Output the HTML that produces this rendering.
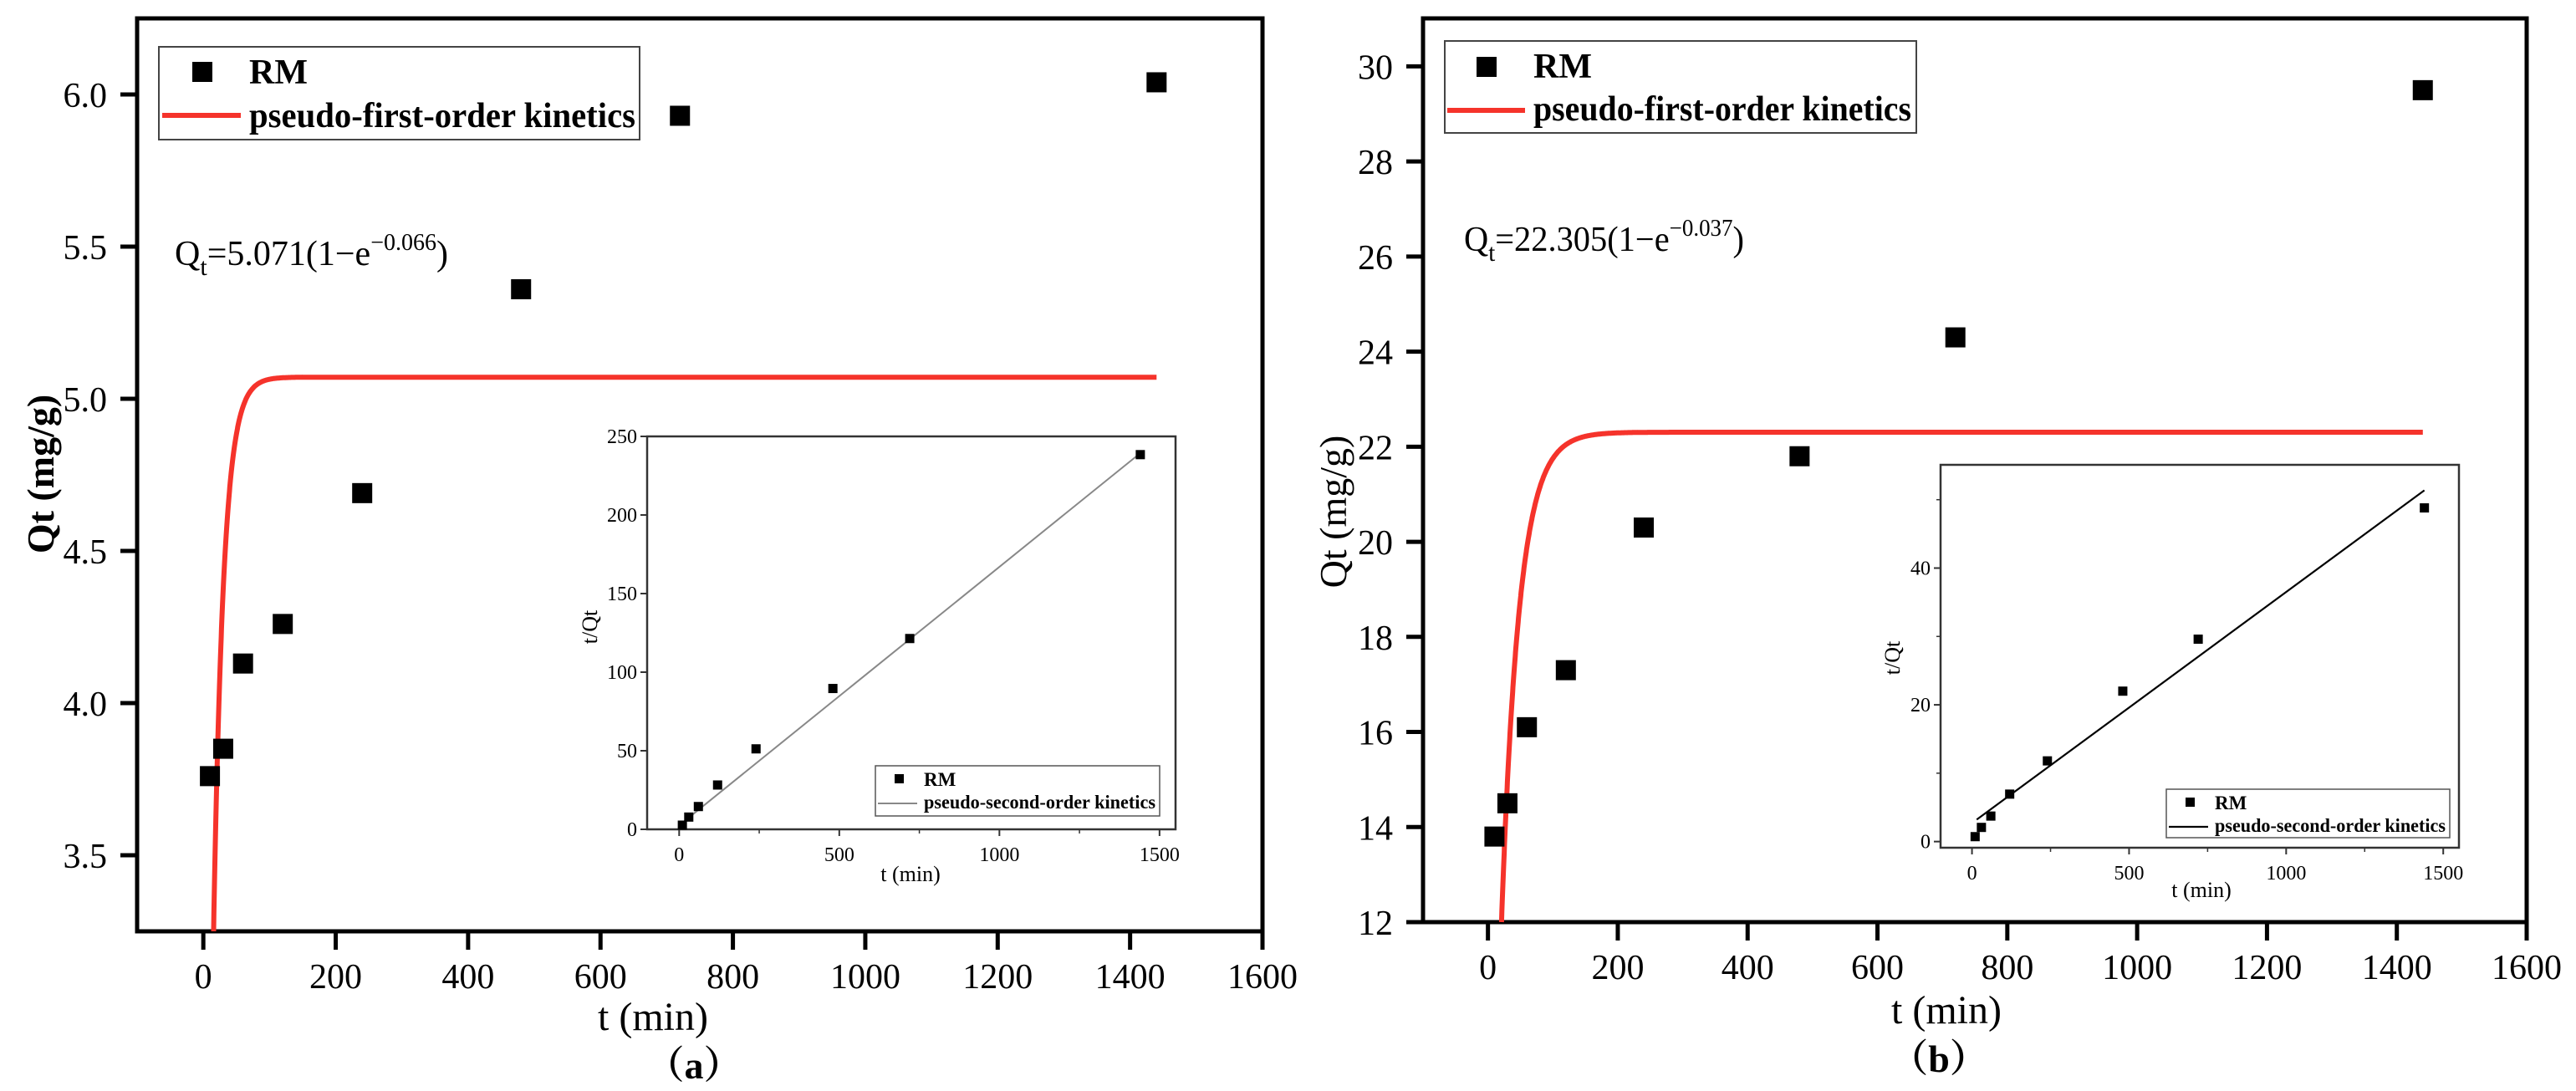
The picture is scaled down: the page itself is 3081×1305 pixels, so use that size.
<!DOCTYPE html>
<html><head><meta charset="utf-8"><style>
html,body{margin:0;padding:0;background:#fff;}
svg{display:block;font-family:"Liberation Serif",serif;}
</style></head><body>
<svg id="fig" width="3081" height="1305" viewBox="0 0 3081 1305" xmlns="http://www.w3.org/2000/svg" font-family="Liberation Serif, serif"></svg>
<script>
// ---- data ----
const times = [10, 30, 60, 120, 240, 480, 720, 1440];
const qtA = [3.76, 3.85, 4.13, 4.26, 4.69, 5.36, 5.93, 6.04];
const qtB = [13.8, 14.5, 16.1, 17.3, 20.3, 21.8, 24.3, 29.5];
const fitA = [5.071, 0.066];
const fitB = [22.305, 0.037];
const insetA = [2.66, 7.8, 14.5, 28.2, 51.2, 89.6, 121.4, 238.4];
const insetB = [0.72, 2.07, 3.73, 6.94, 11.8, 22.0, 29.6, 48.8];
const insetFitA = [2.5, 0.1645];
const insetFitB = [2.7, 0.0338];
const xTicksMain = [0, 200, 400, 600, 800, 1000, 1200, 1400, 1600];
const yTicksA = [3.5, 4.0, 4.5, 5.0, 5.5, 6.0];
const yTickLabelsA = ["3.5", "4.0", "4.5", "5.0", "5.5", "6.0"];
const yTicksB = [12, 14, 16, 18, 20, 22, 24, 26, 28, 30];
const xTicksInset = [0, 500, 1000, 1500];
const yTicksInsetA = [0, 50, 100, 150, 200, 250];
const yTicksInsetB = [0, 20, 40];

const NS = "http://www.w3.org/2000/svg";
const svg = document.getElementById("fig");
function mk(tag, attrs, parent) {
  const e = document.createElementNS(NS, tag);
  for (const k in attrs) e.setAttribute(k, attrs[k]);
  (parent || svg).appendChild(e);
  return e;
}
function lin(d0, d1, r0, r1) { return v => r0 + (v - d0) * (r1 - r0) / (d1 - d0); }

function mainPanel(cfg) {
  const g = mk("g", {});
  
  
  const X = lin(-100, 1600, cfg.x0, cfg.x1);
  const Y = lin(cfg.ymin, cfg.ymax, cfg.yb, cfg.yt);
  const fr = mk("rect", {x: cfg.x0, y: cfg.yt, width: cfg.x1 - cfg.x0, height: cfg.yb - cfg.yt, fill: "none", stroke: "#000", "stroke-width": 5}, g);
  
  
  xTicksMain.forEach(v => {
    const t = mk("line", {x1: X(v), x2: X(v), y1: cfg.yb, y2: cfg.yb + 22, stroke: "#000", "stroke-width": 5}, g);
    
    
    const l = mk("text", {x: X(v), y: cfg.yb + 68, "font-size": 42, "text-anchor": "middle"}, g);
    l.textContent = v;
    
    
  });
  cfg.yticks.forEach((v, i) => {
    const t = mk("line", {x1: cfg.x0 - 20, x2: cfg.x0, y1: Y(v), y2: Y(v), stroke: "#000", "stroke-width": 5}, g);
    
    
    const l = mk("text", {x: cfg.x0 - 36, y: Y(v) + 15, "font-size": 42, "text-anchor": "end"}, g);
    l.textContent = cfg.ylabels ? cfg.ylabels[i] : v;
    
    
  });
  // fit curve, starting exactly where it crosses the bottom of the axis
  const tStart = Math.max(0, -Math.log(1 - cfg.ymin / cfg.fit[0]) / cfg.fit[1]);
  let d = "M" + X(tStart).toFixed(1) + "," + Y(cfg.ymin).toFixed(1);
  for (let t = Math.ceil(tStart * 2) / 2; t <= 1440; t += 0.5) {
    const q = cfg.fit[0] * (1 - Math.exp(-cfg.fit[1] * t));
    d += "L" + X(t).toFixed(1) + "," + Y(q).toFixed(1);
  }
  const c = mk("path", {d: d, fill: "none", stroke: "#f5332b", "stroke-width": 6}, g);
  
  
  times.forEach((t, i) => {
    const p = mk("rect", {x: X(t) - 12, y: Y(cfg.q[i]) - 12, width: 24, height: 24, fill: "#000"}, g);
    
    
  });
  const xt = mk("text", {x: cfg.xtX, y: cfg.xtY, "font-size": 48, "text-anchor": "middle"}, g);
  xt.textContent = "t (min)";
  
  
  const yt = mk("text", {x: 0, y: 0, "font-size": 46, "text-anchor": "middle", "font-weight": cfg.ybold ? "bold" : "normal", transform: `translate(${cfg.ytX},${cfg.ytY}) rotate(-90)`}, g);
  yt.textContent = "Qt (mg/g)";
  
  
  const pl = mk("text", {x: cfg.plX, y: cfg.plY, "font-size": 46, "font-weight": "bold", "text-anchor": "middle", "font-family": "Liberation Serif, Noto Serif CJK SC, serif"}, g);
  pl.textContent = cfg.panelLabel;
  
  
  const L = cfg.leg;
  const lg = mk("g", {}, g);
  
  
  mk("rect", {x: L.x, y: L.y, width: L.w, height: L.h, fill: "#fff", stroke: "#444", "stroke-width": 2}, lg);
  const lm = mk("rect", {x: L.mx - 12, y: L.my - 12, width: 24, height: 24, fill: "#000"}, lg);
  
  
  const lt1 = mk("text", {x: L.tx, y: L.b1, "font-size": 42, "font-weight": "bold"}, lg);
  lt1.textContent = "RM";
  
  
  const ll = mk("line", {x1: L.lx0, x2: L.lx1, y1: L.ly, y2: L.ly, stroke: "#f5332b", "stroke-width": 6}, lg);
  
  
  const lt2 = mk("text", {x: L.tx, y: L.b2, "font-size": 42, "font-weight": "bold", textLength: L.tw, lengthAdjust: "spacingAndGlyphs"}, lg);
  lt2.textContent = "pseudo-first-order kinetics";
  
  
  const eq = mk("text", {x: cfg.eqX, y: cfg.eqY, "font-size": 42, textLength: cfg.eqW, lengthAdjust: "spacingAndGlyphs"}, g);
  
  
  eq.innerHTML = `Q<tspan font-size="30" dy="12">t</tspan><tspan dy="-12">=${cfg.fit[0].toFixed(3)}(1−e</tspan><tspan font-size="28" dy="-18">−${cfg.fit[1].toFixed(3)}</tspan><tspan dy="18">)</tspan>`;
  return g;
}

function inset(cfg) {
  const g = mk("g", {});
  
  
  const X = lin(-100, 1550, cfg.x0, cfg.x1);
  const Y = lin(cfg.ymin, cfg.ymax, cfg.yb, cfg.yt);
  mk("rect", {x: cfg.x0, y: cfg.yt, width: cfg.x1 - cfg.x0, height: cfg.yb - cfg.yt, fill: "#fff", stroke: "#333", "stroke-width": 2.5}, g);
  xTicksInset.forEach(v => {
    const t = mk("line", {x1: X(v), x2: X(v), y1: cfg.yb, y2: cfg.yb + 8, stroke: "#333", "stroke-width": 2}, g);
    
    
    const l = mk("text", {x: X(v), y: cfg.yb + 38, "font-size": 24, "text-anchor": "middle"}, g);
    l.textContent = v;
    
    
    if (v < 1500) {
      const m = mk("line", {x1: X(v + 250), x2: X(v + 250), y1: cfg.yb, y2: cfg.yb + 5, stroke: "#333", "stroke-width": 1.5}, g);
      
      
    }
  });
  cfg.yticks.forEach(v => {
    const t = mk("line", {x1: cfg.x0 - 8, x2: cfg.x0, y1: Y(v), y2: Y(v), stroke: "#333", "stroke-width": 2}, g);
    
    
    const l = mk("text", {x: cfg.x0 - 12, y: Y(v) + 8, "font-size": 24, "text-anchor": "end"}, g);
    l.textContent = v;
    
    
    if (cfg.minor && Y(v + cfg.minor) > cfg.yt) {
      const m = mk("line", {x1: cfg.x0 - 5, x2: cfg.x0, y1: Y(v + cfg.minor), y2: Y(v + cfg.minor), stroke: "#333", "stroke-width": 1.5}, g);
      
      
    }
  });
  const f = cfg.fit;
  const fl = mk("line", {x1: X(15), y1: Y(f[0] + f[1] * 15), x2: X(1440), y2: Y(f[0] + f[1] * 1440), stroke: cfg.lineColor, "stroke-width": cfg.lineW}, g);
  
  
  times.forEach((t, i) => {
    const p = mk("rect", {x: X(t) - 5.5, y: Y(cfg.v[i]) - 5.5, width: 11, height: 11, fill: "#000"}, g);
    
    
  });
  const xt = mk("text", {x: cfg.xtX, y: cfg.xtY, "font-size": 26, "text-anchor": "middle"}, g);
  xt.textContent = "t (min)";
  
  
  const yt = mk("text", {x: 0, y: 0, "font-size": 26, "text-anchor": "middle", transform: `translate(${cfg.ytX},${cfg.ytY}) rotate(-90)`}, g);
  yt.textContent = "t/Qt";
  
  
  const L = cfg.leg;
  const lg = mk("g", {}, g);
  
  
  mk("rect", {x: L.x, y: L.y, width: L.w, height: L.h, fill: "#fff", stroke: "#555", "stroke-width": 1.5}, lg);
  mk("rect", {x: L.x + 23, y: L.y + 10, width: 11, height: 11, fill: "#000"}, lg);
  const a = mk("text", {x: L.x + 58, y: L.y + 24, "font-size": 23, "font-weight": "bold"}, lg);
  a.textContent = "RM";
  
  
  mk("line", {x1: L.x + 3, x2: L.x + 50, y1: L.y + 45, y2: L.y + 45, stroke: cfg.lineColor, "stroke-width": cfg.lineW}, lg);
  const b = mk("text", {x: L.x + 58, y: L.y + 51, "font-size": 23, "font-weight": "bold", textLength: L.w - 63, lengthAdjust: "spacingAndGlyphs"}, lg);
  b.textContent = "pseudo-second-order kinetics";
  
  
}

mainPanel({name: "panel-a", x0: 164, x1: 1510, yt: 22, yb: 1114, ymin: 3.25, ymax: 6.25,
  yticks: yTicksA, ylabels: yTickLabelsA, q: qtA, fit: fitA, ybold: true,
  xtX: 781, xtY: 1232, ytX: 64, ytY: 567, plX: 830, plY: 1290, panelLabel: "（a）",
  leg: {x: 190, y: 56, w: 575, h: 111, mx: 242, my: 86, tx: 298, b1: 100, b2: 152, lx0: 194, lx1: 288, ly: 138, tw: 462},
  eqX: 209, eqY: 317, eqW: 327});
mainPanel({name: "panel-b", x0: 1702, x1: 3022, yt: 22, yb: 1103, ymin: 12, ymax: 31.01,
  yticks: yTicksB, q: qtB, fit: fitB, ybold: false,
  xtX: 2328, xtY: 1224, ytX: 1610, ytY: 612, plX: 2319, plY: 1282, panelLabel: "（b）",
  leg: {x: 1728, y: 49, w: 564, h: 110, mx: 1778, my: 80, tx: 1834, b1: 93, b2: 144, lx0: 1731, lx1: 1824, ly: 132, tw: 452},
  eqX: 1751, eqY: 300, eqW: 335});
inset({name: "inset-a", x0: 774, x1: 1406, yt: 522, yb: 992, ymin: 0, ymax: 250,
  yticks: yTicksInsetA, v: insetA, fit: insetFitA, lineColor: "#888", lineW: 2,
  xtX: 1089, xtY: 1054, ytX: 714, ytY: 750,
  leg: {x: 1047, y: 916, w: 340, h: 60}});
inset({name: "inset-b", x0: 2321, x1: 2941, yt: 556, yb: 1014, ymin: -0.9, ymax: 55.1, minor: 10,
  yticks: yTicksInsetB, v: insetB, fit: insetFitB, lineColor: "#000", lineW: 2.2,
  xtX: 2633, xtY: 1073, ytX: 2272, ytY: 787,
  leg: {x: 2591, y: 944, w: 339, h: 58}});
</script>
</body></html>
